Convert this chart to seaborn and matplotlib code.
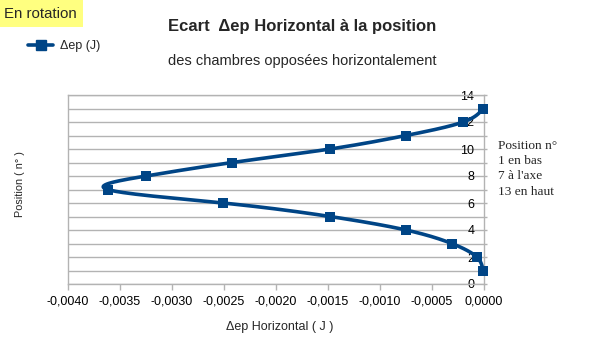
import numpy as np
import pandas as pd
import matplotlib
matplotlib.use("Agg")
import matplotlib.pyplot as plt
import seaborn as sns
from matplotlib.lines import Line2D
from matplotlib.patches import Rectangle

# ---- data ----
positions = [1, 2, 3, 4, 5, 6, 7, 8, 9, 10, 11, 12, 13]
delta_ep = [-0.00001, -0.00007, -0.00031, -0.00075, -0.00148, -0.00251, -0.00362,
            -0.00325, -0.00242, -0.00148, -0.00075, -0.00020, -0.00001]
x_ticks = [-0.0040, -0.0035, -0.0030, -0.0025, -0.0020, -0.0015, -0.0010, -0.0005, 0.0000]
x_tick_labels = ["-0,0040", "-0,0035", "-0,0030", "-0,0025", "-0,0020",
                 "-0,0015", "-0,0010", "-0,0005", "0,0000"]
y_ticks = [0, 2, 4, 6, 8, 10, 12, 14]
y_tick_labels = ["0", "2", "4", "6", "8", "10", "12", "14"]
series_name = "Δep (J)"

df = pd.DataFrame({"pos": positions, "dep": delta_ep})

color = "#004586"
grid_c = "#b3b3b3"

sns.set_theme(style="white")
plt.rcParams['font.family'] = ['Liberation Sans', 'DejaVu Sans']

fig = plt.figure(figsize=(6.05, 3.40), dpi=100)
ax = fig.add_axes([68/605, 1-284/340, (484-68)/605, (284-95)/340])

# smooth (natural cubic spline x(y)) for the connecting line
def natural_spline(t, v, tt):
    t = np.asarray(t, float); v = np.asarray(v, float)
    n = len(t)
    h = np.diff(t)
    A = np.zeros((n, n)); b = np.zeros(n)
    A[0, 0] = 1; A[-1, -1] = 1
    for i in range(1, n-1):
        A[i, i-1] = h[i-1]; A[i, i] = 2*(h[i-1]+h[i]); A[i, i+1] = h[i]
        b[i] = 3*((v[i+1]-v[i])/h[i] - (v[i]-v[i-1])/h[i-1])
    c = np.linalg.solve(A, b)
    out = np.empty_like(tt)
    for k, x in enumerate(tt):
        i = min(max(np.searchsorted(t, x) - 1, 0), n-2)
        dx = x - t[i]
        bb = (v[i+1]-v[i])/h[i] - h[i]*(2*c[i]+c[i+1])/3
        d = (c[i+1]-c[i])/(3*h[i])
        out[k] = v[i] + bb*dx + c[i]*dx**2 + d*dx**3
    return out

yy = np.linspace(positions[0], positions[-1], 400)
xx = natural_spline(df["pos"], df["dep"], yy)
ax.plot(xx, yy, color=color, lw=2.6, clip_on=False, zorder=3, solid_capstyle="round")
sns.scatterplot(data=df, x="dep", y="pos", marker="s", s=60, color=color,
                edgecolor=color, linewidth=0, ax=ax, clip_on=False, zorder=4, legend=False)

ax.set_xlim(-0.0040, 0.0)
ax.set_ylim(0, 14)
ax.yaxis.grid(True, color=grid_c, lw=1)
ax.xaxis.grid(False)
for s in ax.spines.values():
    s.set_color(grid_c); s.set_linewidth(1)

ax.set_xticks(x_ticks)
ax.set_xticklabels(x_tick_labels, fontsize=9, color="#000000")
ax.tick_params(axis="x", direction="out", length=4, width=1, color=grid_c, pad=4.5, bottom=True)

ax.set_yticks(list(range(0, 15)))
ax.set_yticklabels([y_tick_labels[y_ticks.index(v)] if v in y_ticks else "" for v in range(0, 15)],
                   fontsize=9, color="#000000")
ax.tick_params(axis="y", left=False, right=True, labelleft=False, labelright=True,
               direction="out", length=2, width=1, color=grid_c, pad=-9.0)
for lab in ax.get_yticklabels():
    lab.set_horizontalalignment("right")

ax.set_xlabel("Δep Horizontal ( J )", fontsize=9)
ax.xaxis.set_label_coords((280-68)/416, -(321-284)/189)
ax.set_ylabel("Position ( n° )", fontsize=7.8)
ax.yaxis.set_label_position("left")
ax.yaxis.set_label_coords((25-68)/416, (284-184)/189)

# titles
fig.text(302/605, 1-26/340, "Ecart  Δep Horizontal à la position", ha="center", va="center",
         fontsize=12, fontweight="bold")
fig.text(302/605, 1-61/340, "des chambres opposées horizontalement", ha="center", va="center",
         fontsize=10.5)

# "En rotation" label
fig.patches.append(Rectangle((0, 1-27/340), 83/605, 27/340, transform=fig.transFigure,
                             facecolor="#ffff80", edgecolor="none", zorder=0))
fig.text(4/605, 1-14/340, "En rotation", ha="left", va="center", fontsize=10.8)

# legend
handle = Line2D([0], [0], color=color, lw=2.6, marker="s", markersize=7.5)
fig.legend([handle], [series_name], loc="center left", bbox_to_anchor=(28/605, 1-46/340),
           frameon=False, fontsize=9, handlelength=2.0, handletextpad=0.6, borderpad=0,
           borderaxespad=0)

# side note
fig.text(498/605, 1-140/340, "Position n°\n1 en bas\n7 à l'axe\n13 en haut", ha="left", va="top",
         fontsize=9.6, family=["Liberation Serif", "DejaVu Serif"], linespacing=1.36)

fig.savefig("out.png", dpi=100)
